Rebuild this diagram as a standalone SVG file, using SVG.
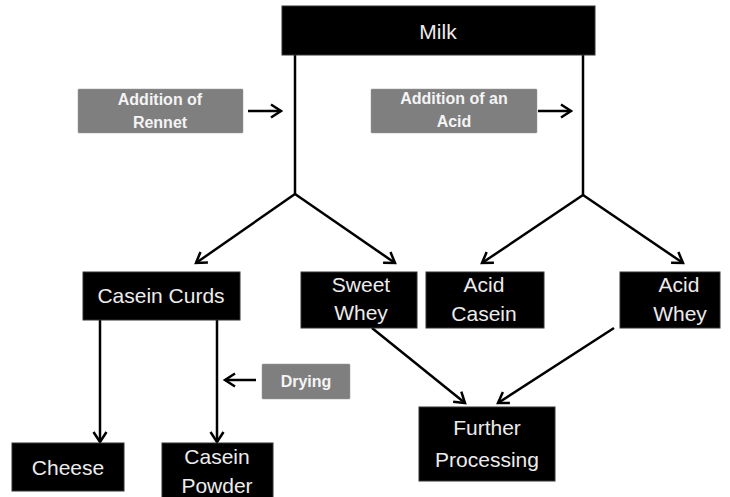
<svg xmlns="http://www.w3.org/2000/svg" width="730" height="497" viewBox="0 0 730 497">
<defs>
<marker id="ah" markerUnits="userSpaceOnUse" markerWidth="14" markerHeight="16" refX="11" refY="7" orient="auto" overflow="visible">
<path d="M1,0.5 L11,7 L1,13.5" fill="none" stroke="#000" stroke-width="2.5" stroke-linejoin="miter"/>
</marker>
<style>
.node{fill:#000;stroke:#333;stroke-width:1}
.lbl{fill:#7f7f7f;stroke:#999;stroke-width:0.5}
.nt{font-family:"Liberation Sans",Arial,sans-serif;font-size:21px;fill:#ececec;text-anchor:middle}
.lt{font-family:"Liberation Sans",Arial,sans-serif;font-size:16px;font-weight:bold;fill:#f4f4f4;text-anchor:middle}
.ln{fill:none;stroke:#000;stroke-width:2.5}
.ar{fill:none;stroke:#000;stroke-width:2.5;marker-end:url(#ah)}
</style>
</defs>
<rect width="730" height="497" fill="#fff"/>
<g id="connectors">
<line class="ln" x1="295" y1="55" x2="295" y2="194"/>
<line class="ln" x1="583" y1="55" x2="583" y2="195"/>
<line class="ar" x1="295" y1="194" x2="196" y2="263"/>
<line class="ar" x1="295" y1="194" x2="395" y2="263"/>
<line class="ar" x1="583" y1="195" x2="482" y2="263"/>
<line class="ar" x1="583" y1="195" x2="683" y2="263"/>
<line class="ar" x1="248" y1="111" x2="281" y2="111"/>
<line class="ar" x1="538" y1="111" x2="571" y2="111"/>
<line class="ar" x1="100" y1="320" x2="100" y2="442"/>
<line class="ar" x1="217" y1="320" x2="217" y2="442"/>
<line class="ar" x1="256" y1="380" x2="225" y2="380"/>
<line class="ar" x1="372" y1="328" x2="465" y2="403"/>
<line class="ar" x1="614" y1="328" x2="498" y2="403"/>
</g>
<g id="milk"><rect class="node" x="282" y="6" width="313" height="49"/><text class="nt" x="438" y="39">Milk</text></g>
<g id="rennet"><rect class="lbl" x="78" y="89" width="165" height="44" rx="1"/><text class="lt" x="160" y="105">Addition of</text><text class="lt" x="160" y="128">Rennet</text></g>
<g id="acid"><rect class="lbl" x="371" y="89" width="166" height="44" rx="1"/><text class="lt" x="454" y="104">Addition of an</text><text class="lt" x="454" y="127">Acid</text></g>
<g id="casein-curds"><rect class="node" x="83" y="272" width="157" height="48"/><text class="nt" x="161" y="303">Casein Curds</text></g>
<g id="sweet-whey"><rect class="node" x="301" y="272" width="116" height="56"/><text class="nt" x="361" y="292">Sweet</text><text class="nt" x="361" y="320">Whey</text></g>
<g id="acid-casein"><rect class="node" x="426" y="272" width="118" height="56"/><text class="nt" x="484" y="292">Acid</text><text class="nt" x="484" y="321">Casein</text></g>
<g id="acid-whey"><rect class="node" x="620" y="272" width="100" height="56"/><text class="nt" x="679" y="292">Acid</text><text class="nt" x="680" y="321">Whey</text></g>
<g id="drying"><rect class="lbl" x="262" y="364" width="88" height="35" rx="1"/><text class="lt" x="306" y="387">Drying</text></g>
<g id="cheese"><rect class="node" x="12" y="443" width="112" height="48"/><text class="nt" x="68" y="475">Cheese</text></g>
<g id="casein-powder"><rect class="node" x="162" y="443" width="111" height="56"/><text class="nt" x="217" y="464">Casein</text><text class="nt" x="217" y="493">Powder</text></g>
<g id="further"><rect class="node" x="419" y="407" width="136" height="74"/><text class="nt" x="487" y="435">Further</text><text class="nt" x="487" y="467">Processing</text></g>
</svg>
